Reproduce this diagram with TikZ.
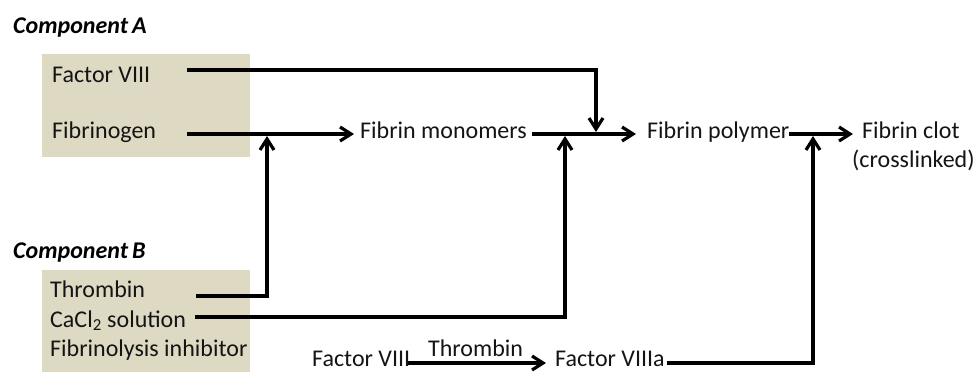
\documentclass[tikz,border=0pt]{standalone}
\usepackage{fontspec}
\setmainfont{Carlito}
\usetikzlibrary{arrows.meta}
\definecolor{tanbox}{RGB}{221,217,195}
\definecolor{ink}{RGB}{20,20,20}
\begin{document}
\begin{tikzpicture}[x=1pt,y=-1pt,
  txt/.style={anchor=base west,inner sep=0pt,text=ink,font=\fontsize{24}{28}\selectfont},
  hdr/.style={anchor=base west,inner sep=0pt,text=black,font=\fontsize{24}{28}\selectfont\bfseries\itshape},
  grp/.style={fill=tanbox,draw=none,anchor=north west,inner sep=0pt},
  conn/.style={line width=3.2pt,draw=black},
  arr/.style={conn,-{Straight Barb[length=11pt,width=14pt]}}
]
\useasboundingbox (0,0) rectangle (975,372);
% background groups
\node[grp,minimum width=208pt,minimum height=103pt] (boxA) at (42,54) {};
\node[grp,minimum width=208pt,minimum height=102pt] (boxB) at (42,270) {};
% headers
\node[hdr] (compA) at (13,33) {Component\,A};
\node[hdr] (compB) at (13,258) {Component\,B};
% component A
\node[txt] (f8A) at (52,82) {Factor VIII};
\node[txt] (fbg) at (52,138) {Fibrinogen};
% component B
\node[txt] (thr) at (50,297) {Thrombin};
\node[txt] (cacl) at (50,327) {CaCl\textsubscript{2} solution};
\node[txt] (fib) at (50,356) {Fibrinolysis inhibitor};
% main chain
\node[txt] (mono) at (360,138) {Fibrin monomers};
\node[txt] (poly) at (647,138) {Fibrin polymer};
\node[txt] (clot) at (862,138) {Fibrin clot};
\node[txt] (xl) at (852,167) {(crosslinked)};
% bottom chain
\node[txt] (f8) at (312,366) {Factor VIII};
\node[txt] (f8a) at (555,366) {Factor VIIIa};
\node[txt] (thl) at (428,356) {Thrombin};
% coordinates
\coordinate (sA) at (187,70);
\coordinate (sF) at (187,134);
\coordinate (jA) at (596,70);
\coordinate (jAt) at (596,132);
\coordinate (eF) at (354,134);
\coordinate (sT) at (196,296);
\coordinate (jT) at (267,296);
\coordinate (jTt) at (267,136);
\coordinate (sM) at (532,134);
\coordinate (eM) at (636,134);
\coordinate (sC) at (195,317);
\coordinate (jC) at (565,317);
\coordinate (jCt) at (565,136);
\coordinate (sP) at (789,134);
\coordinate (eP) at (853,134);
\coordinate (s8) at (408,363);
\coordinate (e8) at (546,363);
\coordinate (s8a) at (667,363);
\coordinate (j8a) at (813,363);
\coordinate (j8at) at (813,136);
% connectors
\draw[arr] (sA) -- (jA) -- (jAt);
\draw[arr] (sF) -- (eF);
\draw[arr] (sT) -- (jT) -- (jTt);
\draw[arr] (sM) -- (eM);
\draw[arr] (sC) -- (jC) -- (jCt);
\draw[arr] (sP) -- (eP);
\draw[arr] (s8) -- (e8);
\draw[arr] (s8a) -- (j8a) -- (j8at);
\end{tikzpicture}
\end{document}
